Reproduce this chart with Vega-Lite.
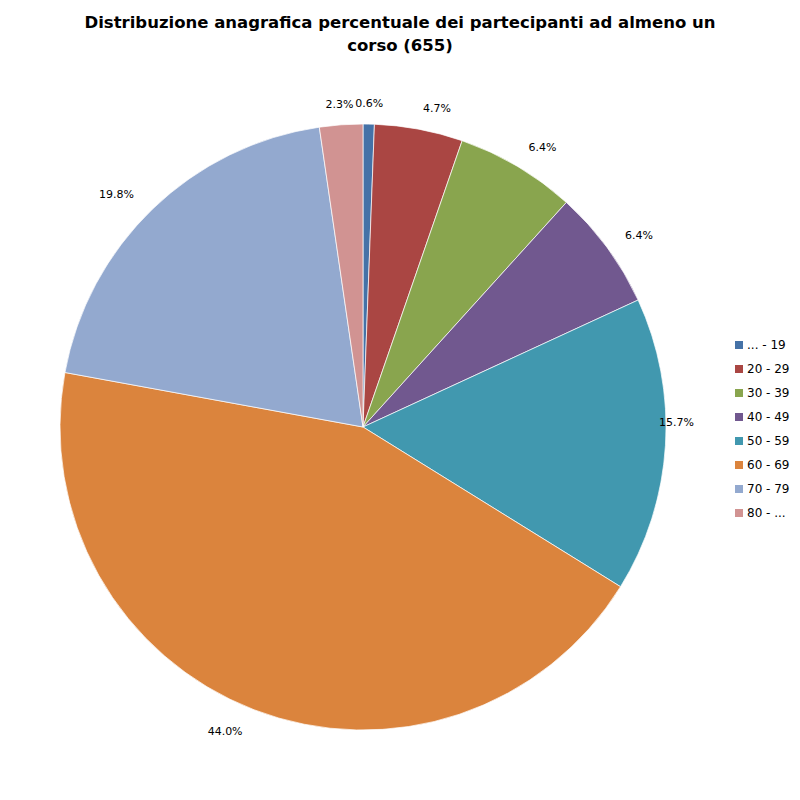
{
  "$schema": "https://vega.github.io/schema/vega-lite/v6.json",
  "width": 726,
  "height": 726,
  "autosize": {"type": "none"},
  "padding": {"left": 0, "top": 64, "right": 74, "bottom": 10},
  "background": "white",
  "title": {
    "text": ["Distribuzione anagrafica percentuale dei partecipanti ad almeno un", "corso (655)"],
    "font": "DejaVu Sans",
    "fontSize": 16.5,
    "fontWeight": "bold",
    "color": "black",
    "anchor": "middle",
    "dx": 37,
    "lineHeight": 23,
    "offset": 10
  },
  "config": {
    "view": {"stroke": null},
    "font": "DejaVu Sans"
  },
  "data": {
    "values": [
      {"age": "... - 19", "pct": 0.006},
      {"age": "20 - 29", "pct": 0.047},
      {"age": "30 - 39", "pct": 0.064},
      {"age": "40 - 49", "pct": 0.064},
      {"age": "50 - 59", "pct": 0.157},
      {"age": "60 - 69", "pct": 0.440},
      {"age": "70 - 79", "pct": 0.198},
      {"age": "80 - ...", "pct": 0.023}
    ]
  },
  "encoding": {
    "theta": {"field": "pct", "type": "quantitative", "stack": true},
    "order": {"field": "age", "sort": "ascending"}
  },
  "layer": [
    {
      "mark": {"type": "arc", "outerRadius": 303, "stroke": "white", "strokeWidth": 0.7},
      "encoding": {
        "color": {
          "field": "age",
          "type": "nominal",
          "scale": {
            "domain": ["... - 19", "20 - 29", "30 - 39", "40 - 49", "50 - 59", "60 - 69", "70 - 79", "80 - ..."],
            "range": ["#4572A7", "#AA4643", "#89A54E", "#71588F", "#4198AF", "#DB843D", "#93A9CF", "#D19392"]
          },
          "legend": {
            "title": null,
            "orient": "none",
            "legendX": 733,
            "legendY": 275,
            "symbolType": "square",
            "symbolSize": 64,
            "symbolStrokeWidth": 0,
            "labelFont": "DejaVu Sans",
            "labelFontSize": 12,
            "labelColor": "black",
            "labelOffset": 2,
            "rowPadding": 12,
            "padding": 0
          }
        }
      }
    },
    {
      "mark": {"type": "text", "radius": 325, "dy": 2, "fontSize": 11, "font": "DejaVu Sans", "color": "black"},
      "encoding": {
        "text": {"field": "pct", "type": "quantitative", "format": ".1%",
          "condition": {"test": "datum.age != '... - 19' && datum.age != '80 - ...'", "value": ""}}
      }
    },
    {
      "mark": {"type": "text", "radius": 325, "dx": 14, "dy": 1, "fontSize": 11, "font": "DejaVu Sans", "color": "black"},
      "encoding": {
        "text": {"field": "pct", "type": "quantitative", "format": ".1%",
          "condition": {"test": "datum.age != '20 - 29' && datum.age != '30 - 39' && datum.age != '40 - 49'", "value": ""}}
      }
    },
    {
      "mark": {"type": "text", "radius": 325, "dx": -11, "dy": -24, "fontSize": 11, "font": "DejaVu Sans", "color": "black"},
      "encoding": {
        "text": {"field": "pct", "type": "quantitative", "format": ".1%",
          "condition": {"test": "datum.age != '50 - 59'", "value": ""}}
      }
    },
    {
      "mark": {"type": "text", "radius": 325, "dx": -21, "dy": 2, "fontSize": 11, "font": "DejaVu Sans", "color": "black"},
      "encoding": {
        "text": {"field": "pct", "type": "quantitative", "format": ".1%",
          "condition": {"test": "datum.age != '60 - 69' && datum.age != '70 - 79'", "value": ""}}
      }
    }
  ]
}
